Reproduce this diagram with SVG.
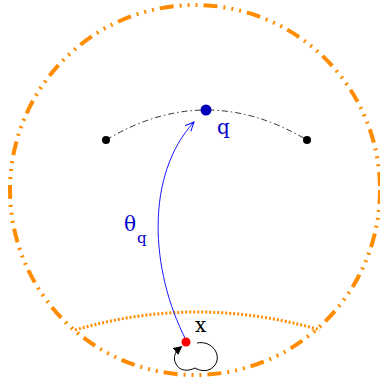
<svg xmlns="http://www.w3.org/2000/svg" width="380" height="385" viewBox="0 0 380 385">
<defs>
<style>
.orange{fill:none;stroke:#ff8c00;}
.lbl{font-family:"DejaVu Serif","Liberation Serif",serif;fill:#0000cc;}
</style>
<marker id="open" viewBox="0 0 10 10" refX="9" refY="5" markerWidth="10" markerHeight="10" orient="auto" markerUnits="userSpaceOnUse">
<path d="M0,1 L9,5 L0,9" fill="none" stroke="#0000ff" stroke-width="1"/>
</marker>
<marker id="solid" viewBox="0 0 10 10" refX="8" refY="5" markerWidth="9" markerHeight="9" orient="auto" markerUnits="userSpaceOnUse">
<path d="M0,0 L10,5 L0,10 Z" fill="#000"/>
</marker>
</defs>
<rect width="380" height="385" fill="#fff"/>
<g id="boundary">
<circle cx="195" cy="190" r="185" class="orange" stroke-width="4" stroke-dasharray="14 6 2 6 2 6 2 6"/>
<path d="M75,330 Q197,294 320,330" class="orange" stroke-width="3" stroke-dasharray="2 2"/>
</g>
<g id="connectors">
<path d="M106,140 Q206,80 307,140" fill="none" stroke="#000" stroke-width="0.8" stroke-dasharray="6 3 1.5 3"/>
<path d="M186,340 C150,270 145,175 194,122" fill="none" stroke="#0000ff" stroke-width="0.9" marker-end="url(#open)"/>
<path d="M197,343 C212,340 222,355 215,365 C209,373 200,371 195,368 C189,371 180,372 176,364 C172,357 176,351 181,347" fill="none" stroke="#000" stroke-width="1" marker-end="url(#solid)"/>
</g>
<g id="node-left"><circle cx="106" cy="140" r="4" fill="#000"/></g>
<g id="node-right"><circle cx="307" cy="140" r="4" fill="#000"/></g>
<g id="node-q"><circle cx="206" cy="110" r="5.5" fill="#0000bb"/>
<text x="217" y="134" class="lbl" font-size="20">q</text></g>
<g id="label-theta"><text x="124" y="231" class="lbl" font-size="20" fill="#0000ff">θ</text><text x="137" y="243" class="lbl" font-size="15">q</text></g>
<g id="node-x"><circle cx="186" cy="342" r="4.5" fill="#ff0000"/>
<text x="195" y="332" font-family="DejaVu Serif, serif" font-size="20" fill="#000">x</text></g>
</svg>
